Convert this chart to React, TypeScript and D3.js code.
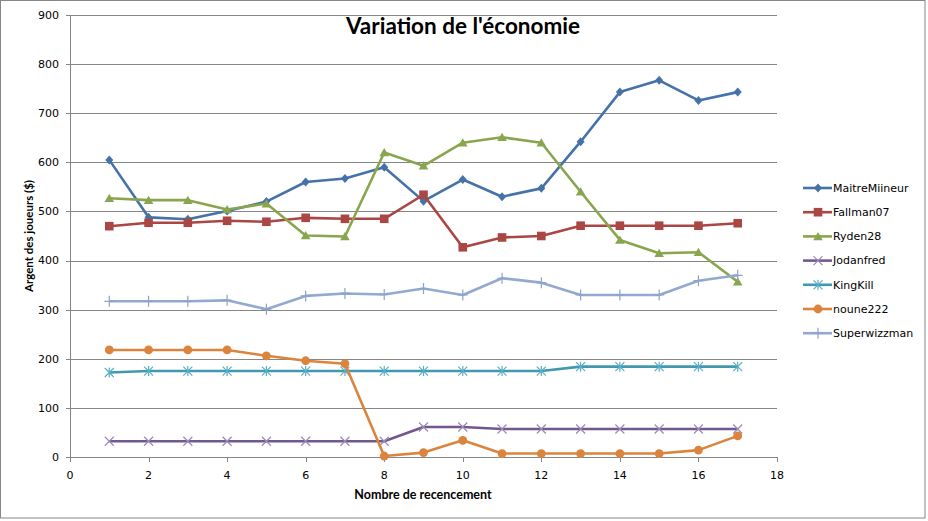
import React from 'react';
import * as d3 from 'd3';

// recensements 1..17
const recensements = [1, 2, 3, 4, 5, 6, 7, 8, 9, 10, 11, 12, 13, 14, 15, 16, 17];

const maitreMiineur = [605, 488, 484, 501, 520, 560, 567, 590, 521, 565, 530, 547, 642, 743, 767, 726, 743];
const fallman07 = [470, 477, 477, 481, 479, 487, 485, 485, 534, 427, 447, 450, 471, 471, 471, 471, 476];
const ryden28 = [527, 523, 523, 504, 516, 451, 449, 620, 593, 640, 651, 640, 540, 442, 415, 417, 357];
const jodanfred = [32, 32, 32, 32, 32, 32, 32, 32, 61, 61, 57, 57, 57, 57, 57, 57, 57];
const kingKill = [172, 175, 175, 175, 175, 175, 175, 175, 175, 175, 175, 175, 184, 184, 184, 184, 184];
const noune222 = [218, 218, 218, 218, 206, 196, 190, 2, 9, 34, 7, 7, 7, 7, 7, 14, 43];
const superwizzman = [317, 317, 317, 319, 301, 328, 333, 331, 343, 330, 364, 355, 330, 330, 330, 359, 370];

const yTicks = [0, 100, 200, 300, 400, 500, 600, 700, 800, 900];
const xTicks = [0, 2, 4, 6, 8, 10, 12, 14, 16, 18];

type Marker = 'diamond' | 'square' | 'triangle' | 'x' | 'star' | 'circle' | 'plus';

const series: { name: string; values: number[]; color: string; markColor: string; marker: Marker }[] = [
  { name: 'MaitreMiineur', values: maitreMiineur, color: '#4572A7', markColor: '#4572A7', marker: 'diamond' },
  { name: 'Fallman07', values: fallman07, color: '#AA4643', markColor: '#AA4643', marker: 'square' },
  { name: 'Ryden28', values: ryden28, color: '#89A54E', markColor: '#89A54E', marker: 'triangle' },
  { name: 'Jodanfred', values: jodanfred, color: '#71588F', markColor: '#9C8AB8', marker: 'x' },
  { name: 'KingKill', values: kingKill, color: '#4198AF', markColor: '#5AAFC6', marker: 'star' },
  { name: 'noune222', values: noune222, color: '#DB843D', markColor: '#DB843D', marker: 'circle' },
  { name: 'Superwizzman', values: superwizzman, color: '#93A9CF', markColor: '#8DA3CB', marker: 'plus' },
];

const W = 928;
const H = 521;
const left = 70;
const right = 777;
const top = 15;
const bottom = 457;

const x = d3.scaleLinear().domain([0, 18]).range([left, right]);
const y = d3.scaleLinear().domain([0, 900]).range([bottom, top]);

const line = d3.line<[number, number]>()
  .x(d => x(d[0]))
  .y(d => y(d[1]));

const MarkerShape = ({ type, cx, cy, color }: { type: Marker; cx: number; cy: number; color: string }) => {
  const t = `translate(${cx},${cy})`;
  switch (type) {
    case 'diamond':
      return <path transform={t} d="M0,-4.5L4,0L0,4.5L-4,0Z" fill={color} />;
    case 'square':
      return <rect x={cx - 4.3} y={cy - 4.3} width={8.6} height={8.6} fill={color} />;
    case 'triangle':
      return <path transform={t} d="M0,-4.5L4.8,3.8L-4.8,3.8Z" fill={color} />;
    case 'circle':
      return <circle cx={cx} cy={cy} r={4.4} fill={color} />;
    case 'x':
      return <path transform={t} d="M-4.5,-4.5L4.5,4.5M-4.5,4.5L4.5,-4.5" stroke={color} strokeWidth={1.2} fill="none" />;
    case 'star':
      return <path transform={t} d="M-4.5,-4.5L4.5,4.5M-4.5,4.5L4.5,-4.5M0,-5L0,5" stroke={color} strokeWidth={1.2} fill="none" />;
    case 'plus':
      return <path transform={t} d="M0,-5.5L0,5.5M-5,0L5,0" stroke={color} strokeWidth={1.2} fill="none" />;
  }
  return null;
};

export default function App() {
  const legendX = 803;
  const legendY0 = 188;
  const legendStep = 24.2;

  return (
    <div style={{ position: 'absolute', left: 0, top: 0 }}>
      <svg width={W} height={H} style={{ display: 'block', background: '#fff' }}>
        <rect x={0.5} y={0.5} width={924.5} height={517.5} fill="#fff" stroke="#868686" strokeWidth={1} />

        {/* grid */}
        {yTicks.map(t => (
          <line key={'g' + t} x1={left} x2={right} y1={Math.round(y(t)) + 0.5} y2={Math.round(y(t)) + 0.5} stroke="#868686" strokeWidth={1} />
        ))}

        {/* axes */}
        <line x1={left + 0.5} x2={left + 0.5} y1={top} y2={bottom} stroke="#868686" />
        {yTicks.map(t => (
          <line key={'yt' + t} x1={left - 4} x2={left} y1={Math.round(y(t)) + 0.5} y2={Math.round(y(t)) + 0.5} stroke="#868686" />
        ))}
        {xTicks.map(t => (
          <line key={'xt' + t} x1={Math.round(x(t)) + 0.5} x2={Math.round(x(t)) + 0.5} y1={bottom} y2={bottom + 5} stroke="#868686" />
        ))}

        <g fontFamily="'DejaVu Sans', Verdana, sans-serif" fontSize={11} fill="#000">
          {yTicks.map(t => (
            <text key={'yl' + t} x={59} y={y(t)} dy="0.35em" textAnchor="end">{t}</text>
          ))}
          {xTicks.map(t => (
            <text key={'xl' + t} x={x(t)} y={479} textAnchor="middle">{t}</text>
          ))}
        </g>

        {/* series */}
        {series.map(s => {
          const pts = recensements.map((r, i) => [r, s.values[i]] as [number, number]);
          return (
            <g key={s.name}>
              <path d={line(pts) || ''} fill="none" stroke={s.color} strokeWidth={2.6} strokeLinejoin="round" />
              {pts.map((p, i) => (
                <MarkerShape key={i} type={s.marker} cx={x(p[0])} cy={y(p[1])} color={s.markColor} />
              ))}
            </g>
          );
        })}

        {/* titles */}
        <text x={463} y={34} textAnchor="middle" fontFamily="Lato, 'Open Sans', sans-serif" fontWeight="bold" fontSize={22.5}>
          Variation de l'économie
        </text>
        <text x={423} y={499} textAnchor="middle" fontFamily="Lato, sans-serif" fontWeight="bold" fontSize={12.5}>
          Nombre de recencement
        </text>
        <text transform={`translate(33,236) rotate(-90)`} textAnchor="middle" fontFamily="Lato, sans-serif" fontWeight="bold" fontSize={11.5}>
          Argent des joueurs ($)
        </text>

        {/* legend */}
        {series.map((s, i) => {
          const ly = legendY0 + i * legendStep;
          return (
            <g key={'lg' + s.name}>
              <line x1={legendX} x2={legendX + 29} y1={ly} y2={ly} stroke={s.color} strokeWidth={2.6} />
              <MarkerShape type={s.marker} cx={legendX + 15} cy={ly} color={s.markColor} />
              <text x={833} y={ly} dy="0.35em" fontFamily="'DejaVu Sans', Verdana, sans-serif" fontSize={11}>{s.name}</text>
            </g>
          );
        })}
      </svg>
    </div>
  );
}
